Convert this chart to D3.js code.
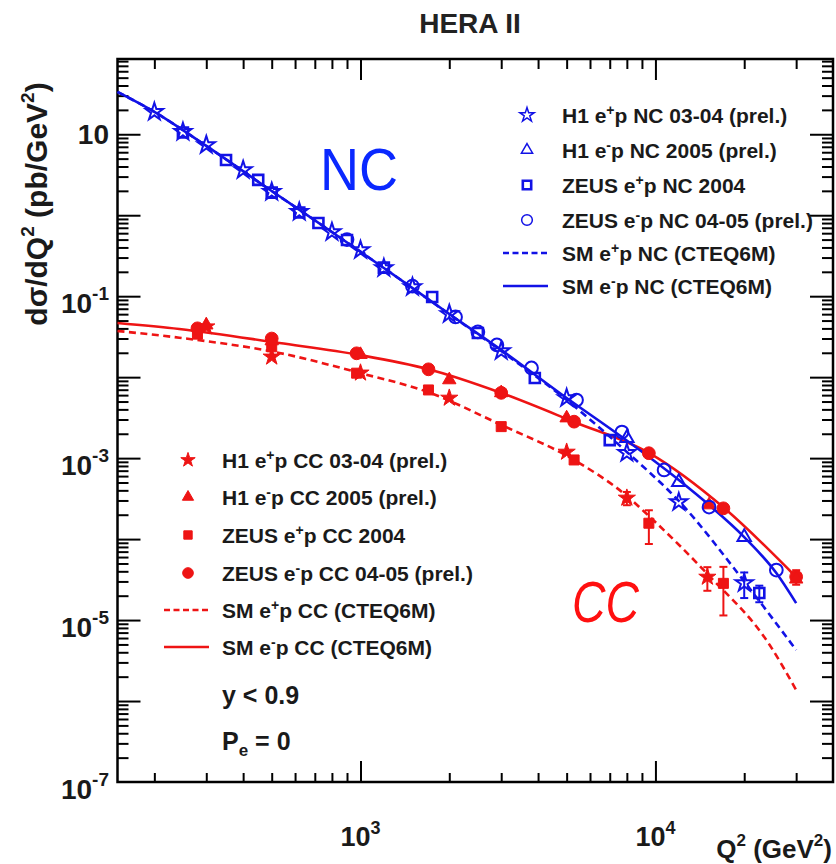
<!DOCTYPE html>
<html>
<head>
<meta charset="utf-8">
<script src="https://cdn.jsdelivr.net/npm/d3@7"></script>
<style>
  body { margin: 0; background: #fff; }
  text { font-family: "Liberation Sans", Arial, Helvetica, sans-serif; }
</style>
</head>
<body>
<script>
// ---- data (Q2 in GeV^2, dsigma/dQ2 in pb/GeV^2) ----

// SM curves (CTEQ6M)
var ncEmQ2 = [150, 200, 300, 500, 800, 1200, 2000, 3000, 5000, 7700, 12000, 15200, 20000, 25700, 30000];
var ncEmSig = [33.3, 18.9, 7.17, 1.99, 0.621, 0.223, 0.0603, 0.0217, 0.00553, 0.00182, 5.37e-4, 2.64e-4, 1.06e-4, 3.81e-5, 1.62e-5];
var ncEpQ2 = [150, 200, 300, 500, 800, 1200, 2000, 3000, 5000, 8000, 12000, 20300, 30000];
var ncEpSig = [33.3, 18.9, 7.17, 1.99, 0.621, 0.223, 0.0600, 0.0210, 0.00522, 1.19e-3, 2.96e-4, 2.79e-5, 4.27e-6];
var ccEmQ2 = [150, 243, 531, 992, 1690, 3000, 5300, 9500, 17100, 30000];
var ccEmSig = [0.0467, 0.0394, 0.0264, 0.0188, 0.0126, 0.00638, 0.0028, 1.16e-3, 2.42e-4, 3.4e-5];
var ccEpQ2 = [150, 243, 531, 992, 1690, 3000, 5300, 8000, 9500, 15000, 24400, 30000];
var ccEpSig = [0.0372, 0.0307, 0.0199, 0.0113, 0.00656, 0.00257, 9.49e-4, 3.41e-4, 1.93e-4, 3.71e-5, 4.92e-6, 1.37e-6];

// NC measurements
var h1NcEpQ2 = [200, 250, 300, 400, 500, 620, 800, 1000, 1200, 1500, 2000, 3000, 5000, 8000, 12000, 20000];
var h1NcEpSig = [18.9, 10.7, 7.37, 3.62, 1.94, 1.10, 0.621, 0.372, 0.223, 0.130, 0.0603, 0.0210, 0.00553, 1.16e-3, 2.87e-4, 2.87e-5];
var h1NcEpErr = [0, 0, 0, 0, 0, 0, 0, 0, 0, 0, 0, 0, 0, 0, 0, 1.0e-5];
var h1NcEmQ2 = [8000, 12000, 20000];
var h1NcEmSig = [1.77e-3, 5.07e-4, 1.06e-4];
var h1NcEmErr = [0, 0, 0];
var zeusNcEpQ2 = [250, 350, 450, 500, 620, 720, 900, 1200, 1750, 2500, 3900, 7000, 22500];
var zeusNcEpSig = [10.5, 4.81, 2.73, 1.90, 1.08, 0.802, 0.495, 0.225, 0.0978, 0.0351, 0.00977, 1.67e-3, 2.16e-5];
var zeusNcEpErr = [0, 0, 0, 0, 0, 0, 0, 0, 0, 0, 0, 0, 5e-6];
var zeusNcEmQ2 = [900, 1500, 2100, 2500, 2900, 3800, 5400, 7700, 10700, 15200, 25700];
var zeusNcEmSig = [0.50, 0.133, 0.0554, 0.0362, 0.0250, 0.0130, 0.00522, 2.10e-3, 7.14e-4, 2.49e-4, 4.15e-5];
var zeusNcEmErr = [0, 0, 0, 0, 0, 0, 0, 0, 0, 0, 0];

// CC measurements
var h1CcEpQ2 = [300, 500, 1000, 2000, 5000, 8000, 15000];
var h1CcEpSig = [0.042, 0.0178, 0.0113, 0.00553, 1.19e-3, 3.22e-4, 3.4e-5];
var h1CcEpErr = [0, 0, 0, 0, 0, 6e-5, 1.1e-5];
var h1CcEmQ2 = [300, 500, 1000, 2000, 3000, 5000, 15200, 30000];
var h1CcEmSig = [0.044, 0.028, 0.019, 0.00925, 0.0064, 0.00313, 2.64e-4, 3.2e-5];
var h1CcEmErr = [0, 0, 0, 0, 0, 0, 0, 0];
var zeusCcEpQ2 = [280, 500, 970, 1700, 3000, 5300, 9500, 17000];
var zeusCcEpSig = [0.034, 0.0237, 0.0112, 0.00695, 0.00245, 9.49e-4, 1.57e-4, 2.84e-5];
var zeusCcEpErr = [0, 0, 0, 0, 0, 0, 7e-5, 1.7e-5];
var zeusCcEmQ2 = [280, 500, 970, 1700, 3000, 5300, 9500, 17000, 30000];
var zeusCcEmSig = [0.0401, 0.030, 0.0197, 0.0125, 0.0064, 0.00282, 1.15e-3, 2.4e-4, 3.43e-5];
var zeusCcEmErr = [0, 0, 0, 0, 0, 0, 0, 0, 7e-6];

// axis ranges and tick labels
var xDomain = [150, 40000];
var yDomain = [1e-7, 85];
var xLabelExp = [3, 4];
var yLabelExp = [1, -1, -3, -5, -7];

// legend texts
var ncLegend = [
  ["H1 e", "+", "p NC 03-04 (prel.)"],
  ["H1 e", "-", "p NC 2005 (prel.)"],
  ["ZEUS e", "+", "p NC 2004"],
  ["ZEUS e", "-", "p NC 04-05 (prel.)"],
  ["SM e", "+", "p NC (CTEQ6M)"],
  ["SM e", "-", "p NC (CTEQ6M)"]
];
var ccLegend = [
  ["H1 e", "+", "p CC 03-04 (prel.)"],
  ["H1 e", "-", "p CC 2005 (prel.)"],
  ["ZEUS e", "+", "p CC 2004"],
  ["ZEUS e", "-", "p CC 04-05 (prel.)"],
  ["SM e", "+", "p CC (CTEQ6M)"],
  ["SM e", "-", "p CC (CTEQ6M)"]
];

function main() {
  var width = 836,
    height = 864;
  var margin = { top: 59, right: 3, bottom: 82, left: 117.5 };
  var blue = "#1212e6",
    red = "#ee1414",
    ink = "#1a1a1a";

  var svg = d3
    .select("body")
    .append("svg")
    .attr("width", width)
    .attr("height", height);

  var x = d3.scaleLog().domain(xDomain).range([margin.left, width - margin.right]);
  var y = d3.scaleLog().domain(yDomain).range([height - margin.bottom, margin.top]);
  var x0 = margin.left,
    x1 = width - margin.right,
    y0 = height - margin.bottom,
    y1 = margin.top;

  // title
  svg.append("text")
    .attr("x", 470).attr("y", 33)
    .attr("text-anchor", "middle")
    .attr("font-size", 28).attr("font-weight", "bold")
    .attr("fill", "#222")
    .text("HERA II");

  // tick values (decades = long ticks, 2..9 = short)
  function logTicks(dom) {
    var major = [], minor = [];
    var e0 = Math.floor(Math.log10(dom[0])), e1 = Math.ceil(Math.log10(dom[1]));
    for (var e = e0; e <= e1; e++) {
      for (var k = 1; k <= 9; k++) {
        var v = k * Math.pow(10, e);
        if (v < dom[0] * 1.0001 || v > dom[1] * 0.9999) continue;
        if (k === 1) major.push(v); else minor.push(v);
      }
    }
    return { major: major, minor: minor };
  }
  var xt = logTicks(xDomain), yt = logTicks(yDomain);

  function tickGroup(axis, tx, ty) {
    var g = svg.append("g").attr("transform", "translate(" + tx + "," + ty + ")").call(axis);
    g.select(".domain").remove();
    g.selectAll("line").attr("stroke", "#000").attr("stroke-width", 2);
    return g;
  }
  // bottom / top
  tickGroup(d3.axisBottom(x).tickValues(xt.minor).tickSize(-9).tickFormat(""), 0, y0);
  tickGroup(d3.axisBottom(x).tickValues(xt.major).tickSize(-21).tickFormat(""), 0, y0);
  tickGroup(d3.axisTop(x).tickValues(xt.minor).tickSize(-10).tickFormat(""), 0, y1);
  tickGroup(d3.axisTop(x).tickValues(xt.major).tickSize(-21).tickFormat(""), 0, y1);
  // left / right
  tickGroup(d3.axisLeft(y).tickValues(yt.minor).tickSize(-11).tickFormat(""), x0, 0);
  tickGroup(d3.axisLeft(y).tickValues(yt.major).tickSize(-23).tickFormat(""), x0, 0);
  tickGroup(d3.axisRight(y).tickValues(yt.minor).tickSize(-11).tickFormat(""), x1, 0);
  tickGroup(d3.axisRight(y).tickValues(yt.major).tickSize(-23).tickFormat(""), x1, 0);

  // frame
  svg.append("rect")
    .attr("x", x0).attr("y", y1)
    .attr("width", x1 - x0).attr("height", y0 - y1)
    .attr("fill", "none").attr("stroke", "#000").attr("stroke-width", 2.5);

  // tick labels
  svg.selectAll(".ylab")
    .data(yLabelExp)
    .enter()
    .append("text")
    .attr("class", "ylab")
    .attr("x", 109)
    .attr("y", function (d) { return y(Math.pow(10, d)) + (d === 1 ? 10 : 17); })
    .attr("text-anchor", "end")
    .attr("font-size", 28).attr("font-weight", "bold").attr("fill", ink)
    .each(function (d) {
      var t = d3.select(this);
      t.append("tspan").text("10");
      if (d !== 1) t.append("tspan").attr("font-size", 19).attr("dy", -13).text(d);
    });

  svg.selectAll(".xlab")
    .data(xLabelExp)
    .enter()
    .append("text")
    .attr("class", "xlab")
    .attr("x", function (d) { return x(Math.pow(10, d)); })
    .attr("y", 846)
    .attr("text-anchor", "middle")
    .attr("font-size", 27).attr("font-weight", "bold").attr("fill", ink)
    .each(function (d) {
      var t = d3.select(this);
      t.append("tspan").text("10");
      t.append("tspan").attr("font-size", 18).attr("dy", -12).text(d);
    });

  // axis titles
  var xt2 = svg.append("text")
    .attr("x", 832).attr("y", 858)
    .attr("text-anchor", "end")
    .attr("font-size", 26).attr("font-weight", "bold").attr("fill", ink);
  xt2.append("tspan").text("Q");
  xt2.append("tspan").attr("font-size", 17).attr("dy", -12).text("2");
  xt2.append("tspan").attr("dy", 12).text(" (GeV");
  xt2.append("tspan").attr("font-size", 17).attr("dy", -12).text("2");
  xt2.append("tspan").attr("dy", 12).text(")");

  var yt2 = svg.append("text")
    .attr("transform", "translate(47,204) rotate(-90)")
    .attr("text-anchor", "middle")
    .attr("font-size", 30).attr("font-weight", "bold").attr("fill", ink);
  yt2.append("tspan").text("d\u03c3/dQ");
  yt2.append("tspan").attr("font-size", 19).attr("dy", -13).text("2");
  yt2.append("tspan").attr("dy", 13).text(" (pb/GeV");
  yt2.append("tspan").attr("font-size", 19).attr("dy", -13).text("2");
  yt2.append("tspan").attr("dy", 13).text(")");

  // SM curves
  var line = d3.line()
    .x(function (d) { return x(d[0]); })
    .y(function (d) { return y(d[1]); })
    .curve(d3.curveMonotoneX);
  function curve(q2, sig, color, dashed) {
    svg.append("path")
      .datum(q2.map(function (q, i) { return [q, sig[i]]; }))
      .attr("d", line)
      .attr("fill", "none")
      .attr("stroke", color)
      .attr("stroke-width", 2.6)
      .attr("stroke-dasharray", dashed ? "7,4.5" : null);
  }
  curve(ccEpQ2, ccEpSig, red, true);
  curve(ccEmQ2, ccEmSig, red, false);
  curve(ncEpQ2, ncEpSig, blue, true);
  curve(ncEmQ2, ncEmSig, blue, false);

  // markers
  var sym = {
    star: { type: d3.symbolStar, size: 92 },
    triangle: { type: d3.symbolTriangle, size: 78 },
    square: { type: d3.symbolSquare, size: 100 },
    circle: { type: d3.symbolCircle, size: 128 }
  };
  function points(q2, sig, err, shape, color, filled) {
    var data = q2.map(function (q, i) { return { q: q, s: sig[i], e: err[i] }; });
    var g = svg.append("g");
    var eb = data.filter(function (d) { return d.e > 0; });
    g.selectAll("line.eb").data(eb).enter().append("line")
      .attr("x1", function (d) { return x(d.q); }).attr("x2", function (d) { return x(d.q); })
      .attr("y1", function (d) { return y(d.s + d.e); }).attr("y2", function (d) { return y(Math.max(d.s - d.e, 1e-7)); })
      .attr("stroke", color).attr("stroke-width", 2);
    ["hi", "lo"].forEach(function (k) {
      g.selectAll("line.cap" + k).data(eb).enter().append("line")
        .attr("x1", function (d) { return x(d.q) - 4; }).attr("x2", function (d) { return x(d.q) + 4; })
        .attr("y1", function (d) { return y(k === "hi" ? d.s + d.e : d.s - d.e); })
        .attr("y2", function (d) { return y(k === "hi" ? d.s + d.e : d.s - d.e); })
        .attr("stroke", color).attr("stroke-width", 2);
    });
    g.selectAll("path").data(data).enter().append("path")
      .attr("d", d3.symbol().type(sym[shape].type).size(sym[shape].size))
      .attr("transform", function (d) { return "translate(" + x(d.q) + "," + y(d.s) + ")"; })
      .attr("fill", filled ? color : "none")
      .attr("stroke", color)
      .attr("stroke-width", filled ? 1 : (shape === "square" ? 2.6 : 2));
  }
  points(zeusCcEpQ2, zeusCcEpSig, zeusCcEpErr, "square", red, true);
  points(zeusCcEmQ2, zeusCcEmSig, zeusCcEmErr, "circle", red, true);
  points(h1CcEmQ2, h1CcEmSig, h1CcEmErr, "triangle", red, true);
  points(h1CcEpQ2, h1CcEpSig, h1CcEpErr, "star", red, true);
  points(zeusNcEpQ2, zeusNcEpSig, zeusNcEpErr, "square", blue, false);
  points(zeusNcEmQ2, zeusNcEmSig, zeusNcEmErr, "circle", blue, false);
  points(h1NcEmQ2, h1NcEmSig, h1NcEmErr, "triangle", blue, false);
  points(h1NcEpQ2, h1NcEpSig, h1NcEpErr, "star", blue, false);

  // legends
  var shapes = ["star", "triangle", "square", "circle"];
  function legend(entries, mx, tx, ys, color, filled) {
    entries.forEach(function (e, i) {
      var yy = ys[i];
      if (i < 4) {
        svg.append("path")
          .attr("d", d3.symbol().type(sym[shapes[i]].type).size(sym[shapes[i]].size * 0.7))
          .attr("transform", "translate(" + mx + "," + yy + ")")
          .attr("fill", filled ? color : "none")
          .attr("stroke", color)
          .attr("stroke-width", filled ? 1 : (shapes[i] === "square" ? 2.6 : 1.5));
      } else {
        svg.append("line")
          .attr("x1", mx - 24).attr("x2", mx + 21)
          .attr("y1", yy).attr("y2", yy)
          .attr("stroke", color).attr("stroke-width", 2.6)
          .attr("stroke-dasharray", i === 4 ? "6,3.5" : null);
      }
      var t = svg.append("text")
        .attr("x", tx).attr("y", yy + 8)
        .attr("font-size", 21).attr("font-weight", "bold").attr("fill", ink);
      t.append("tspan").text(e[0]);
      t.append("tspan").attr("font-size", 14).attr("dy", -8).text(e[1] === "-" ? "-" : "+");
      t.append("tspan").attr("dy", 8).text(e[2]);
    });
  }
  legend(ncLegend, 527, 562, [115, 150, 185, 220, 253, 286], blue, false);
  legend(ccLegend, 188, 222, [460, 497, 535, 573, 610, 647], red, true);

  // cut / polarisation text
  svg.append("text")
    .attr("x", 222).attr("y", 704)
    .attr("font-size", 25).attr("font-weight", "bold").attr("fill", ink)
    .text("y < 0.9");
  var pe = svg.append("text")
    .attr("x", 222).attr("y", 750)
    .attr("font-size", 25).attr("font-weight", "bold").attr("fill", ink);
  pe.append("tspan").text("P");
  pe.append("tspan").attr("font-size", 17).attr("dy", 6).text("e");
  pe.append("tspan").attr("dy", -6).text(" = 0");

  // NC / CC annotations
  svg.append("text")
    .attr("x", 320).attr("y", 190)
    .attr("font-family", "'Comic Sans MS', 'DejaVu Sans', sans-serif")
    .attr("font-size", 60)
    .attr("textLength", 78).attr("lengthAdjust", "spacingAndGlyphs")
    .attr("fill", "#0a28ff")
    .text("NC");
  svg.append("text")
    .attr("x", 572).attr("y", 622)
    .attr("font-family", "'Comic Sans MS', 'DejaVu Sans', sans-serif")
    .attr("font-style", "italic")
    .attr("font-size", 57)
    .attr("textLength", 67).attr("lengthAdjust", "spacingAndGlyphs")
    .attr("fill", "#ff1010")
    .text("CC");
}
main();
</script>
</body>
</html>
